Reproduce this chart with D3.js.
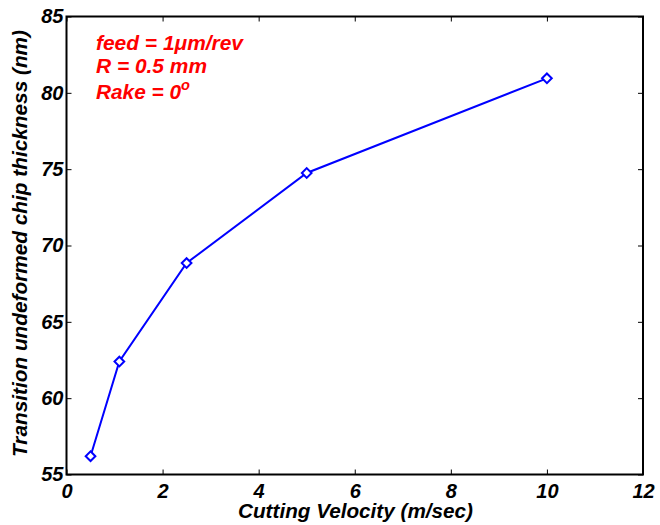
<!DOCTYPE html>
<html>
<head>
<meta charset="utf-8">
<script src="https://cdn.jsdelivr.net/npm/d3@7"></script>
<style>
  html, body { margin: 0; padding: 0; background: #fff; }
  svg { display: block; }
  text { font-family: "Liberation Sans", Arial, sans-serif; font-weight: bold; font-style: italic; }
</style>
</head>
<body>
<svg id="chart" width="660" height="525"></svg>
<script>
// Cutting velocity (m/sec) vs transition undeformed chip thickness (nm)
const velocity = [0.5, 1.1, 2.5, 5, 10];
const thickness = [56.2, 62.4, 68.85, 74.75, 80.95];
const xTicks = [0, 2, 4, 6, 8, 10, 12];
const yTicks = [55, 60, 65, 70, 75, 80, 85];
const notes = ["feed = 1\u03BCm/rev", "R = 0.5 mm", "Rake = 0"];

const svg = d3.select("#chart");
const plotL = 66.5, plotR = 643, plotT = 16.5, plotB = 474.5;

const x = d3.scaleLinear().domain([0, 12]).range([plotL, plotR]);
const y = d3.scaleLinear().domain([55, 85]).range([plotB, plotT]);

// axes with inward ticks on all four sides
const tickLen = 5;
const gx = svg.append("g").attr("transform", `translate(0,${plotB})`)
  .call(d3.axisBottom(x).tickValues(xTicks).tickSizeInner(-tickLen).tickSizeOuter(0).tickPadding(9));
const gxTop = svg.append("g").attr("transform", `translate(0,${plotT})`)
  .call(d3.axisTop(x).tickValues(xTicks).tickSizeInner(-tickLen).tickSizeOuter(0).tickFormat(""));
const gy = svg.append("g").attr("transform", `translate(${plotL},0)`)
  .call(d3.axisLeft(y).tickValues(yTicks).tickSizeInner(-tickLen).tickSizeOuter(0).tickPadding(6));
const gyRight = svg.append("g").attr("transform", `translate(${plotR},0)`)
  .call(d3.axisRight(y).tickValues(yTicks).tickSizeInner(-tickLen).tickSizeOuter(0).tickFormat(""));

[gx, gxTop, gy, gyRight].forEach(g => {
  g.select(".domain").remove();
  g.selectAll(".tick line").attr("stroke", "#000").attr("stroke-width", 1);
});
gx.selectAll(".tick text").attr("font-size", 20).attr("fill", "#000")
  .attr("font-family", "Liberation Sans, Arial, sans-serif");
gy.selectAll(".tick text").attr("font-size", 20).attr("fill", "#000")
  .attr("font-family", "Liberation Sans, Arial, sans-serif").attr("dx", 3);

// frame
svg.append("rect").attr("x", plotL).attr("y", plotT)
  .attr("width", plotR - plotL).attr("height", plotB - plotT)
  .attr("fill", "none").attr("stroke", "#000").attr("stroke-width", 2);

// data line
const pts = velocity.map((v, i) => [v, thickness[i]]);
svg.append("path").datum(pts)
  .attr("fill", "none").attr("stroke", "#0000ff").attr("stroke-width", 2)
  .attr("d", d3.line().x(d => x(d[0])).y(d => y(d[1])));

// diamond markers
const diamond = d3.symbol().type(d3.symbolDiamond2).size(60);
svg.selectAll(".marker").data(pts).join("path")
  .attr("class", "marker")
  .attr("transform", d => `translate(${x(d[0])},${y(d[1])})`)
  .attr("d", diamond)
  .attr("fill", "#fff").attr("stroke", "#0000ff").attr("stroke-width", 2);

// axis titles
svg.append("text").attr("x", 355.5).attr("y", 518)
  .attr("text-anchor", "middle").attr("font-size", 20).attr("fill", "#000")
  .attr("textLength", 235).attr("lengthAdjust", "spacingAndGlyphs")
  .text("Cutting Velocity (m/sec)");
svg.append("text")
  .attr("transform", `translate(27,243.5) rotate(-90)`)
  .attr("text-anchor", "middle").attr("font-size", 20).attr("fill", "#000")
  .attr("textLength", 427).attr("lengthAdjust", "spacingAndGlyphs")
  .text("Transition undeformed chip thickness (nm)");

// condition annotations
const noteY = [50, 73, 99];
const noteW = [147, 111, 94];
notes.forEach((t, i) => {
  const tx = svg.append("text").attr("x", 96).attr("y", noteY[i])
    .attr("font-size", 20).attr("fill", "#ff0000")
    .attr("textLength", noteW[i]).attr("lengthAdjust", "spacingAndGlyphs")
    .text(t);
  if (i === 2) {
    tx.append("tspan").attr("font-size", 14).attr("dy", -9).text("o");
  }
});
</script>
</body>
</html>
